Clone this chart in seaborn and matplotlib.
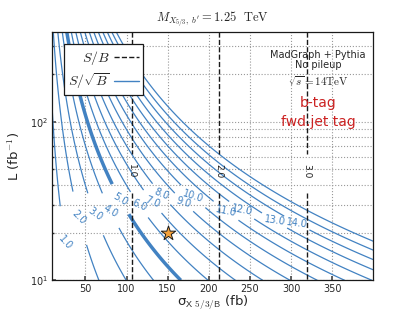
import numpy as np
import seaborn as sns
import matplotlib.pyplot as plt
from matplotlib.lines import Line2D

# --- values ---
sig_levels = [1.0, 2.0, 3.0, 4.0, 5.0, 6.0, 7.0, 8.0, 9.0, 10.0, 11.0, 12.0, 13.0, 14.0, 15.0, 16.0]
label_levels = [1.0, 2.0, 3.0, 4.0, 5.0, 6.0, 7.0, 8.0, 9.0, 10.0, 11.0, 12.0, 13.0, 14.0]
label_sigma = [23, 41, 61, 80, 92, 115, 131, 142, 170, 181, 221, 240, 280, 307]
label_lumi = [15, 24, 25, 27, 32, 29, 30, 34, 32, 34, 28, 28, 24.5, 23]
sigma_at_ref = 33.2    # fb, S/sqrt(B)=1 at L = 10 fb^-1
lumi_ref = 10.0
sb_levels = [1.0, 2.0, 3.0]
sigma_sb1 = 106.3      # fb, S/B = 1
sb_label_lumi = 49.0
star_sigma = [150.0]
star_lumi = [20.0]
xlim = (9, 400)
ylim = (10, 370)

blue = "#4282c2"

sns.set_theme(style="ticks")
plt.rcParams["font.family"] = ["DejaVu Sans"]
plt.rcParams["mathtext.fontset"] = "cm"

fig = plt.figure(figsize=(4.15, 3.12), dpi=100)
ax = fig.add_axes([0.1246, 0.1016, 0.7749, 0.7968])

xs = np.linspace(xlim[0], xlim[1], 500)
ls = np.logspace(np.log10(ylim[0]), np.log10(ylim[1]), 500)
X, L = np.meshgrid(xs, ls)
Z = (X / sigma_at_ref) * np.sqrt(L / lumi_ref)
ZB = X / sigma_sb1

# S/sqrt(B) contours (5 sigma drawn thick)
lws = [2.5 if lv == 5.0 else 0.9 for lv in sig_levels]
cs = ax.contour(X, L, Z, levels=sig_levels, colors=blue, linewidths=lws, zorder=2)
ax.clabel(cs, levels=label_levels, fmt="%.1f", fontsize=7, colors=blue,
          manual=list(zip(label_sigma, label_lumi)), inline=True, inline_spacing=2)

# S/B lines
cb = ax.contour(X, L, ZB, levels=sb_levels, colors="k", linestyles="--",
                linewidths=1.0, zorder=2)
ax.clabel(cb, fmt="%.1f", fontsize=6.5, colors="k",
          manual=[(lv * sigma_sb1, sb_label_lumi) for lv in sb_levels],
          inline=True, inline_spacing=2)

sns.scatterplot(x=star_sigma, y=star_lumi, marker="*", s=120, color="#f4a13a",
                edgecolor="k", linewidth=0.7, ax=ax, zorder=5)

ax.set_yscale("log")
ax.set_xlim(*xlim)
ax.set_ylim(*ylim)
ax.set_xticks([50, 100, 150, 200, 250, 300, 350])
ax.grid(True, which="major", axis="x", ls=":", color="0.6", lw=0.8)
ax.grid(True, which="both", axis="y", ls=":", color="0.6", lw=0.8)
ax.tick_params(labelsize=7, direction="in", length=3, color="0.3", pad=2.5)
ax.tick_params(which="minor", direction="in", length=1.5)
for sp in ax.spines.values():
    sp.set_color("k")
    sp.set_linewidth(0.9)

ax.set_xlabel(r"σ$_{\mathsf{X\ 5/3/B}}$ (fb)", fontsize=9.5, labelpad=0)
ax.set_ylabel(r"L (fb$^{\mathsf{-1}}$)", fontsize=9.5, labelpad=6)
ax.set_title(r"$M_{X_{5/3},\ b^{\prime}} = 1.25\ \ \mathrm{TeV}$", fontsize=9, pad=7)

ax.text(0.828, 0.906, "MadGraph + Pythia", transform=ax.transAxes, ha="center",
        va="center", fontsize=7)
ax.text(0.828, 0.866, "No pileup", transform=ax.transAxes, ha="center",
        va="center", fontsize=7)
ax.text(0.828, 0.80, r"$\sqrt{s} = 14\mathrm{TeV}$", transform=ax.transAxes,
        ha="center", va="center", fontsize=8)
ax.text(0.828, 0.714, "b-tag", transform=ax.transAxes, ha="center", va="center",
        fontsize=10, color="#cc2222")
ax.text(0.828, 0.638, "fwd.jet tag", transform=ax.transAxes, ha="center",
        va="center", fontsize=10, color="#cc2222")

handles = [Line2D([], [], color="k", ls="--", lw=1.0),
           Line2D([], [], color=blue, lw=1.0)]
leg = ax.legend(handles, [r"$S/B$", r"$S/\sqrt{B}$"], loc="upper left",
                bbox_to_anchor=(0.03, 0.96), fontsize=10, fancybox=False,
                framealpha=1, edgecolor="k", handlelength=1.8,
                borderpad=0.3, labelspacing=0.3, handletextpad=0.3,
                borderaxespad=0.2, markerfirst=False)
leg.get_frame().set_linewidth(0.9)
leg.set_zorder(10)

fig.savefig("out.png", dpi=100)
